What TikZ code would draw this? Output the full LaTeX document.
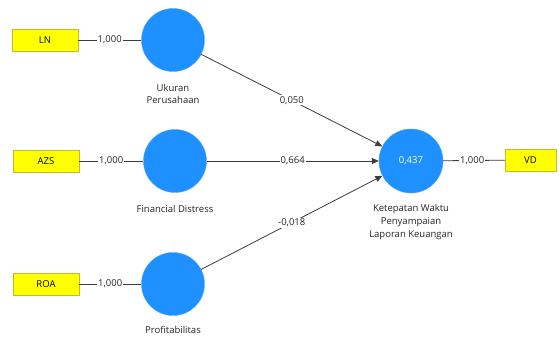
\documentclass[tikz,border=0pt]{standalone}
\usepackage{fontspec}
\setmainfont{Open Sans}
\usetikzlibrary{arrows.meta}
\definecolor{lvblue}{RGB}{30,144,255}
\definecolor{indyel}{RGB}{255,255,0}
\definecolor{indborder}{RGB}{190,190,40}
\definecolor{linegray}{RGB}{60,60,60}
\tikzset{
  latent/.style={circle, fill=lvblue, draw=lvblue!80!white, minimum size=63pt, inner sep=0pt, text=white, font=\fontsize{9.5}{11}\selectfont},
  indicator/.style={rectangle, fill=indyel, draw=indborder, minimum width=66pt, minimum height=22pt, inner sep=0pt, font=\fontsize{9.5}{11}\selectfont},
  lvlabel/.style={align=center, font=\fontsize{9.5}{12.5}\selectfont, text=black!85},
  load/.style={draw=linegray, line width=0.8pt},
  path/.style={draw=linegray, line width=0.8pt, -{Triangle[length=7pt,width=6pt]}},
  coef/.style={fill=white, inner sep=1pt, font=\fontsize{9.5}{11}\selectfont, text=black!85}
}
\begin{document}
\begin{tikzpicture}[x=1pt,y=-1pt]
\useasboundingbox (0,0) rectangle (559,337);
\fill[white] (0,0) rectangle (559,337);
% indicators
\node[indicator] (LN) at (45,40) {LN};
\node[indicator] (AZS) at (46,161) {AZS};
\node[indicator] (ROA) at (46,284) {ROA};
\node[indicator, minimum width=51pt] (VD) at (530.5,160) {VD};
% latent variables
\node[latent] (UP) at (173,40) {};
\node[latent] (FD) at (175,161) {};
\node[latent] (PR) at (173,284) {};
\node[latent, minimum size=64pt] (KW) at (411,161) {0,437};
% labels
\node[lvlabel] (UPl) at (173,94) {Ukuran\\Perusahaan};
\node[lvlabel] (FDl) at (175,209) {Financial Distress};
\node[lvlabel] (PRl) at (173,330) {Profitabilitas};
\node[lvlabel, font=\fontsize{9.5}{13}\selectfont] (KWl) at (411,222) {Ketepatan Waktu\\Penyampaian\\Laporan Keuangan};
% loadings
\draw[load] (LN) -- node[coef] {1,000} (UP);
\draw[load] (AZS) -- node[coef] {1,000} (FD);
\draw[load] (ROA) -- node[coef] {1,000} (PR);
\draw[load] (KW) -- node[coef, pos=0.47] {1,000} (VD);
% paths
\draw[path] (UP) -- node[coef] {0,050} (KW);
\draw[path] (FD) -- node[coef] {0,664} (KW);
\draw[path] (PR) -- node[coef] {-0,018} (KW);
\end{tikzpicture}
\end{document}
